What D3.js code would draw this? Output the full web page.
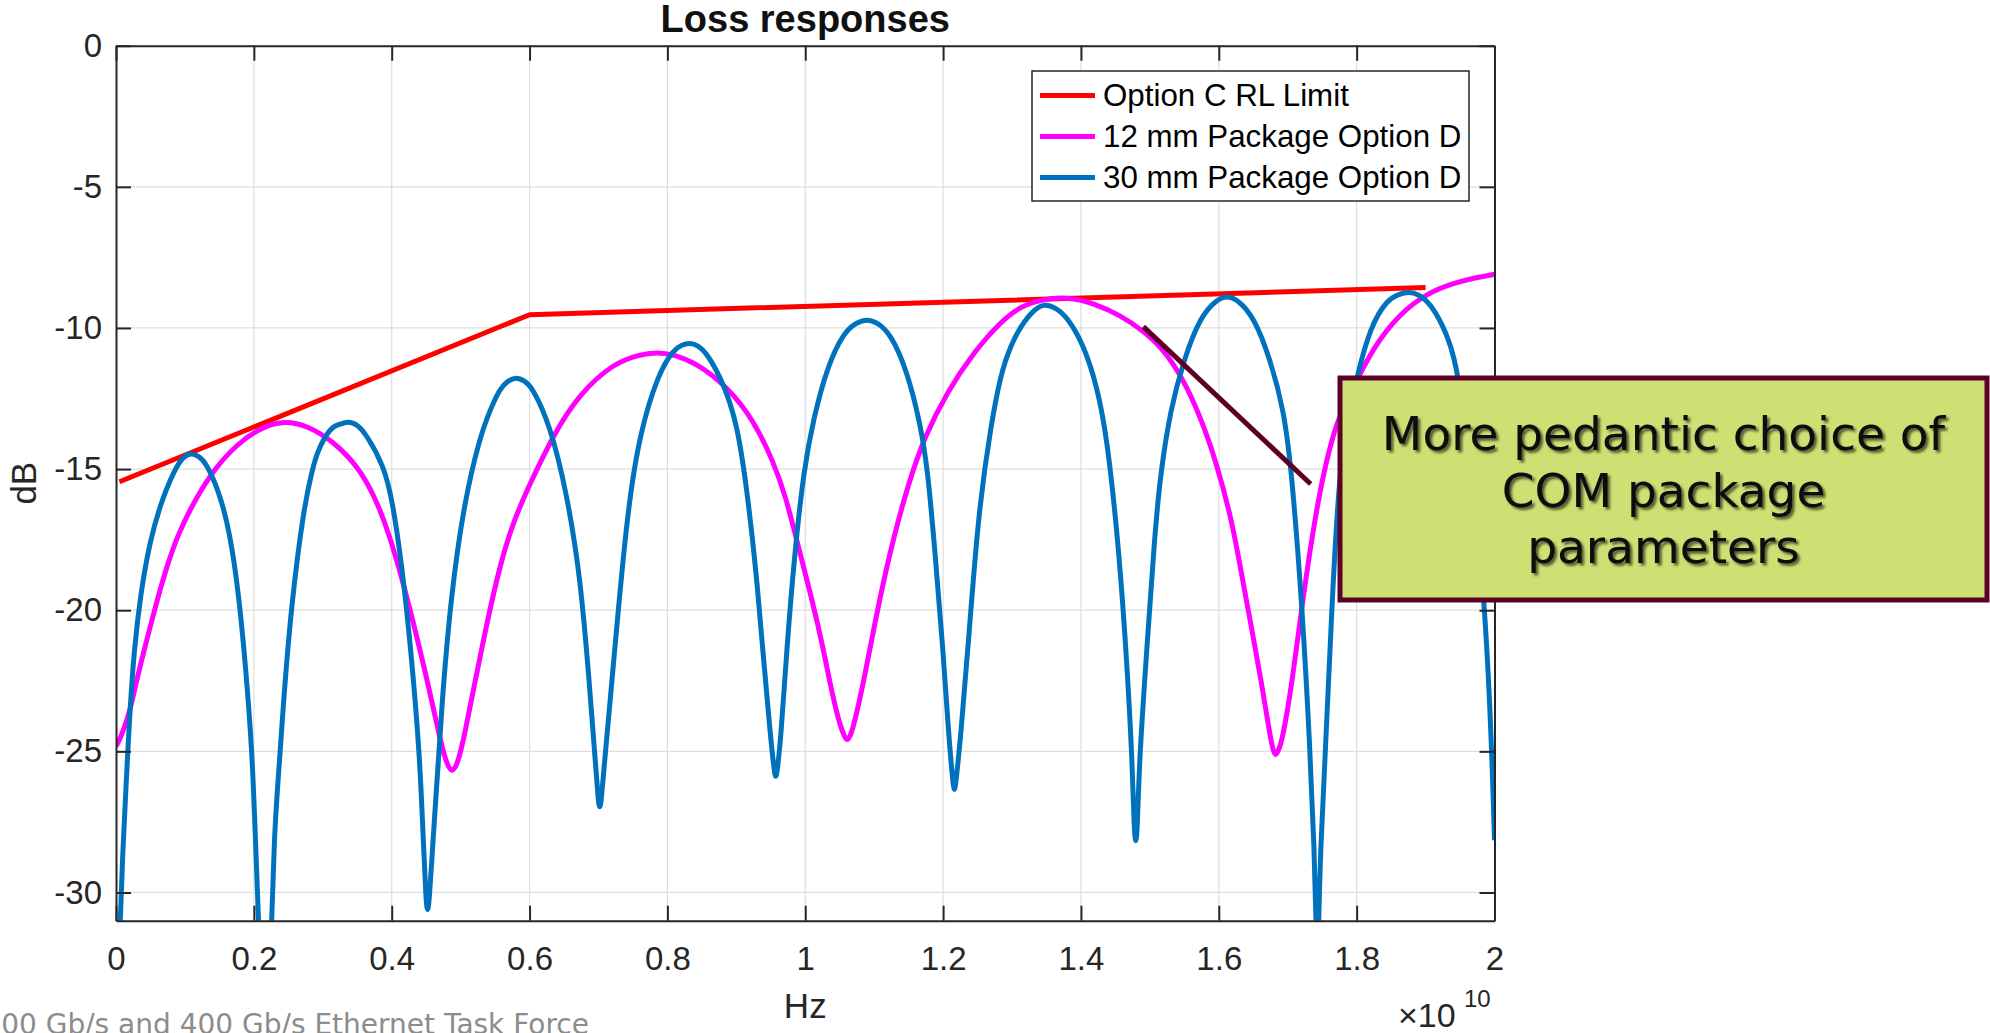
<!DOCTYPE html>
<html>
<head>
<meta charset="utf-8">
<script src="https://cdn.jsdelivr.net/npm/d3@7"></script>
<style>
  body { margin: 0; background: #fff; }
  svg { display: block; }
</style>
</head>
<body>
<svg></svg>
<script>
// frequency is in units of 1e10 Hz, values in dB

// Option C RL Limit
let limitFreq = [0.005, 0.6, 1.9]
let limitDb = [-15.45, -9.53, -8.57]

// 12 mm Package Option D
let pkg12Freq = [0, 0.004, 0.010, 0.0196, 0.0325, 0.052, 0.0714, 0.0908, 0.1167, 0.1426,
  0.175, 0.2075, 0.2398, 0.2787, 0.3176, 0.350, 0.376, 0.3954, 0.4148, 0.4343,
  0.4537, 0.470, 0.4797, 0.4874, 0.4958, 0.5055, 0.5185, 0.5379, 0.5574, 0.5768,
  0.5962, 0.635, 0.6734, 0.7218, 0.7596, 0.7846, 0.8096, 0.8426, 0.8862, 0.9249,
  0.954, 0.972, 0.9883, 1.0105, 1.0253, 1.0401, 1.0513, 1.0565, 1.0609, 1.0653,
  1.0698, 1.0846, 1.1068, 1.129, 1.150, 1.1722, 1.2061, 1.2448, 1.2835, 1.312,
  1.341, 1.3798, 1.4185, 1.4572, 1.491, 1.5249, 1.5539, 1.578, 1.5955, 1.6177,
  1.6325, 1.6473, 1.6621, 1.6732, 1.678, 1.6821, 1.6865, 1.6917, 1.7065, 1.7213,
  1.7436, 1.769, 1.7958, 1.8248, 1.8635, 1.9022, 1.9409, 1.9699, 2.0]
let pkg12Db = [-24.82, -24.65, -24.3, -23.65, -22.2, -20.35, -18.6, -17.24, -16.0, -15.0,
  -14.13, -13.57, -13.28, -13.45, -14.07, -14.88, -15.99, -17.24, -18.85, -20.72,
  -22.71, -24.57, -25.44, -25.78, -25.44, -24.45, -22.83, -20.47, -18.36, -16.85,
  -15.75, -13.75, -12.31, -11.25, -10.94, -10.86, -10.94, -11.25, -12.07, -13.25,
  -14.75, -16.0, -17.59, -19.69, -21.26, -23.1, -24.15, -24.45, -24.65, -24.45,
  -24.15, -22.58, -19.69, -17.33, -15.5, -13.9, -12.25, -10.85, -9.78, -9.24,
  -9.0, -8.89, -9.12, -9.55, -10.1, -10.89, -12.07, -13.45, -14.71, -16.67,
  -18.64, -20.61, -22.57, -24.28, -24.9, -25.2, -24.95, -24.67, -22.57, -19.69,
  -16.02, -13.35, -12.07, -10.66, -9.47, -8.77, -8.41, -8.23, -8.1]

// 30 mm Package Option D
let pkg30Freq = [0, 0.0065, 0.0098, 0.0144, 0.0196, 0.026, 0.0358, 0.0487, 0.0649, 0.0843,
  0.0969, 0.1089, 0.1209, 0.1297, 0.1491, 0.1653, 0.1783, 0.188, 0.1977, 0.2019,
  0.2071, 0.2164, 0.2257, 0.23, 0.2335, 0.2431, 0.254, 0.2723, 0.2851, 0.2918,
  0.3112, 0.324, 0.337, 0.350, 0.3628, 0.3888, 0.4017, 0.4147, 0.4277, 0.4406,
  0.4461, 0.4497, 0.4521, 0.4545, 0.4596, 0.4634, 0.473, 0.486, 0.5055, 0.5283,
  0.5428, 0.5573, 0.5686, 0.5806, 0.5926, 0.604, 0.63, 0.6541, 0.6739, 0.6868,
  0.6965, 0.6995, 0.7018, 0.7043, 0.7076, 0.7193, 0.741, 0.76, 0.787, 0.8089,
  0.8201, 0.8321, 0.8441, 0.8573, 0.8815, 0.9008, 0.9143, 0.929, 0.9401, 0.9498,
  0.9548, 0.9572, 0.9596, 0.9646, 0.9735, 0.9846, 0.998, 1.0121, 1.0315, 1.0557,
  1.0755, 1.0895, 1.1035, 1.1234, 1.1476, 1.167, 1.1776, 1.1884, 1.1995, 1.2084,
  1.214, 1.2164, 1.2188, 1.2253, 1.2364, 1.2512, 1.2697, 1.284, 1.2975, 1.312,
  1.3343, 1.3483, 1.3623, 1.3798, 1.404, 1.4233, 1.4378, 1.4557, 1.4668, 1.4742,
  1.4772, 1.4795, 1.4818, 1.4848, 1.4959, 1.507, 1.5152, 1.5297, 1.5491, 1.5733,
  1.597, 1.612, 1.627, 1.6507, 1.6749, 1.6942, 1.7055, 1.7214, 1.7325, 1.7385,
  1.741, 1.743, 1.745, 1.7475, 1.7547, 1.7637, 1.7748, 1.788, 1.8005, 1.8199,
  1.8441, 1.8615, 1.8755, 1.8895, 1.907, 1.9312, 1.9505, 1.989, 2.0]
let pkg30Db = [-36, -30.6, -28.6, -26.3, -23.8, -21.45, -19.4, -17.6, -16.2, -15.05,
  -14.57, -14.42, -14.56, -14.75, -15.75, -17.24, -19.48, -21.96, -25.07, -27.9,
  -31, -38, -31, -27.9, -26.6, -23.2, -19.9, -16.37, -15.0, -14.38,
  -13.51, -13.42, -13.3, -13.42, -13.76, -14.88, -16.2, -18.4, -21.34, -25.07,
  -28.3, -30.3, -30.75, -30.3, -28.3, -26.93, -23.2, -19.48, -16.12, -13.84,
  -12.9, -12.13, -11.87, -11.74, -11.87, -12.1, -13.45, -15.85, -18.85, -22.58,
  -25.69, -26.7, -27.1, -26.7, -25.69, -22.58, -16.6, -13.7, -11.6, -10.77,
  -10.61, -10.52, -10.61, -10.89, -11.95, -13.37, -15.5, -18.64, -21.92, -24.54,
  -25.65, -26.0, -25.65, -24.54, -21.26, -17.98, -15.0, -13.2, -11.4, -10.15,
  -9.79, -9.69, -9.79, -10.18, -11.5, -13.4, -15.0, -17.98, -21.26, -24.54,
  -26.05, -26.5, -26.05, -24.54, -21.26, -16.5, -13.39, -11.6, -10.66, -9.95,
  -9.28, -9.16, -9.27, -9.6, -10.6, -12.07, -13.84, -17.98, -21.92, -25.2,
  -27.8, -28.35, -27.8, -25.2, -21.26, -17.33, -15.2, -12.9, -11.13, -9.59,
  -8.99, -8.86, -8.99, -9.59, -11.13, -12.9, -15.0, -20.0, -25.0, -28.5,
  -31, -33, -31, -28.5, -25.0, -20.0, -15.0, -13.2, -11.7, -9.95,
  -9.0, -8.8, -8.71, -8.8, -9.12, -10.18, -11.71, -19.6, -28.15]

let xTicks = [0, 0.2, 0.4, 0.6, 0.8, 1, 1.2, 1.4, 1.6, 1.8, 2]
let xTickLabels = ['0', '0.2', '0.4', '0.6', '0.8', '1', '1.2', '1.4', '1.6', '1.8', '2']
let yTicks = [-30, -25, -20, -15, -10, -5, 0]
let yTickLabels = ['-30', '-25', '-20', '-15', '-10', '-5', '0']

let legendLabels = ['Option C RL Limit', '12 mm Package Option D', '30 mm Package Option D']
let seriesColors = ['#ff0000', '#ff00ff', '#0072bd']

let noteLines = ['More pedantic choice of', 'COM package', 'parameters']
// pointer of the callout, in data units
let noteFrom = [1.4905, -9.955]
let noteTo = [1.7333, -15.53]

let footerText = '00 Gb/s and 400 Gb/s Ethernet Task Force'

let width = 1990,
    height = 1033;
let margin = {top: 45.7, right: 495.5, bottom: 112.3, left: 116}
let innerWidth = width - margin.left - margin.right,
    innerHeight = height - margin.top - margin.bottom;

let axisFont = '"Liberation Sans", Arial, Helvetica, sans-serif'
let ink = '#262626'

let svg = d3.select('svg')
            .attr('width', width)
            .attr('height', height)

let defs = svg.append('defs')
defs.append('clipPath')
    .attr('id', 'plotClip')
    .append('rect')
    .attr('width', innerWidth)
    .attr('height', innerHeight)

let shadow = defs.append('filter')
    .attr('id', 'textShadow')
    .attr('x', '-10%').attr('y', '-30%')
    .attr('width', '130%').attr('height', '170%')
shadow.append('feDropShadow')
    .attr('dx', 2.5).attr('dy', 2.5)
    .attr('stdDeviation', 1.3)
    .attr('flood-color', '#000')
    .attr('flood-opacity', 0.6)

let plot = svg.append('g')
              .attr('transform', 'translate(' + margin.left + ',' + margin.top + ')')

//x scale
let freqScale = d3.scaleLinear()
      .domain([0, 2])
      .range([0, innerWidth])

//y scale
let dbScale = d3.scaleLinear()
      .domain([-31, 0])
      .range([innerHeight, 0])

// grid
plot.append('g')
    .selectAll('line')
    .data(xTicks.slice(1, -1))
    .join('line')
    .attr('x1', d => freqScale(d))
    .attr('x2', d => freqScale(d))
    .attr('y1', 0)
    .attr('y2', innerHeight)
    .attr('stroke', '#dedede')
    .attr('stroke-width', 1.2)

plot.append('g')
    .selectAll('line')
    .data(yTicks.slice(0, -1))
    .join('line')
    .attr('x1', 0)
    .attr('x2', innerWidth)
    .attr('y1', d => dbScale(d))
    .attr('y2', d => dbScale(d))
    .attr('stroke', '#dedede')
    .attr('stroke-width', 1.2)

// curves
let series = [
  {color: seriesColors[0], curve: d3.curveLinear, points: d3.zip(limitFreq, limitDb)},
  {color: seriesColors[1], curve: d3.curveBasis, points: d3.zip(pkg12Freq, pkg12Db)},
  {color: seriesColors[2], curve: d3.curveBasis, points: d3.zip(pkg30Freq, pkg30Db)}
]

let lines = plot.append('g').attr('clip-path', 'url(#plotClip)')
lines.selectAll('path')
     .data(series)
     .join('path')
     .attr('d', s => d3.line()
                        .x(d => freqScale(d[0]))
                        .y(d => dbScale(d[1]))
                        .curve(s.curve)(s.points))
     .attr('fill', 'none')
     .attr('stroke', s => s.color)
     .attr('stroke-width', 5)
     .attr('stroke-linejoin', 'round')

// axes
let xAxis = d3.axisBottom(freqScale)
              .tickValues(xTicks)
              .tickFormat((d, i) => xTickLabels[i])
              .tickSizeInner(-15)
              .tickSizeOuter(0)
              .tickPadding(26)
let yAxis = d3.axisLeft(dbScale)
              .tickValues(yTicks)
              .tickFormat((d, i) => yTickLabels[i])
              .tickSizeInner(-15)
              .tickSizeOuter(0)
              .tickPadding(14)
let topAxis = d3.axisTop(freqScale).tickValues(xTicks).tickSizeInner(-15).tickSizeOuter(0)
let rightAxis = d3.axisRight(dbScale).tickValues(yTicks).tickSizeInner(-15).tickSizeOuter(0)

let gTop = plot.append('g').call(topAxis)
let gRight = plot.append('g').attr('transform', 'translate(' + innerWidth + ',0)').call(rightAxis)
gTop.selectAll('text').remove()
gRight.selectAll('text').remove()

let axes = [
  plot.append('g').attr('transform', 'translate(0,' + innerHeight + ')').call(xAxis),
  plot.append('g').call(yAxis),
  gTop,
  gRight
]
axes.forEach(a => {
  a.selectAll('path, line').attr('stroke', ink).attr('stroke-width', 2)
  a.selectAll('text')
   .attr('fill', ink)
   .style('font-family', axisFont)
   .style('font-size', '33px')
})

// titles
svg.append('text')
   .attr('x', margin.left + innerWidth / 2)
   .attr('y', 32)
   .attr('text-anchor', 'middle')
   .style('font-family', axisFont)
   .style('font-size', '38px')
   .style('font-weight', 'bold')
   .attr('fill', '#111')
   .text('Loss responses')

svg.append('text')
   .attr('x', margin.left + innerWidth / 2)
   .attr('y', 1018)
   .attr('text-anchor', 'middle')
   .style('font-family', axisFont)
   .style('font-size', '35px')
   .attr('fill', ink)
   .text('Hz')

svg.append('text')
   .attr('transform', 'translate(36,' + (margin.top + innerHeight / 2) + ') rotate(-90)')
   .attr('text-anchor', 'middle')
   .style('font-family', axisFont)
   .style('font-size', '35px')
   .attr('fill', ink)
   .text('dB')

// x10^10 exponent
svg.append('text')
   .attr('x', 1398)
   .attr('y', 1027)
   .style('font-family', axisFont)
   .style('font-size', '34px')
   .attr('fill', ink)
   .text('\u00d710')
svg.append('text')
   .attr('x', 1464)
   .attr('y', 1007)
   .style('font-family', axisFont)
   .style('font-size', '24px')
   .attr('fill', ink)
   .text('10')

// legend
let legend = svg.append('g').attr('transform', 'translate(1032,71)')
legend.append('rect')
      .attr('width', 437)
      .attr('height', 130)
      .attr('fill', '#fff')
      .attr('stroke', ink)
      .attr('stroke-width', 1.5)
let rows = legend.selectAll('g.row')
      .data(legendLabels)
      .join('g')
      .attr('class', 'row')
      .attr('transform', (d, i) => 'translate(0,' + (24.5 + i * 41) + ')')
rows.append('line')
    .attr('x1', 8).attr('x2', 63)
    .attr('stroke', (d, i) => seriesColors[i])
    .attr('stroke-width', 5)
rows.append('text')
    .attr('x', 71)
    .attr('dy', '0.35em')
    .style('font-family', axisFont)
    .style('font-size', '31.3px')
    .attr('fill', '#000')
    .text(d => d)

// callout
plot.append('line')
    .attr('x1', freqScale(noteFrom[0]))
    .attr('y1', dbScale(noteFrom[1]))
    .attr('x2', freqScale(noteTo[0]))
    .attr('y2', dbScale(noteTo[1]))
    .attr('stroke', '#5c0027')
    .attr('stroke-width', 5)

let note = svg.append('g').attr('transform', 'translate(1340,378)')
note.append('rect')
    .attr('width', 647)
    .attr('height', 222)
    .attr('fill', '#cedf73')
    .attr('stroke', '#5c0027')
    .attr('stroke-width', 5)
note.selectAll('text')
    .data(noteLines)
    .join('text')
    .attr('x', 323.5)
    .attr('y', (d, i) => 72 + i * 56.5)
    .attr('text-anchor', 'middle')
    .attr('filter', 'url(#textShadow)')
    .style('font-family', '"DejaVu Sans", Verdana, sans-serif')
    .style('font-size', '47px')
    .attr('fill', '#0d0d0d')
    .text(d => d)

// footer from the slide
svg.append('text')
   .attr('x', 589)
   .attr('y', 1034)
   .attr('text-anchor', 'end')
   .style('font-family', '"DejaVu Sans", Verdana, sans-serif')
   .style('font-size', '28px')
   .attr('fill', '#8c8c8c')
   .text(footerText)
</script>
</body>
</html>
